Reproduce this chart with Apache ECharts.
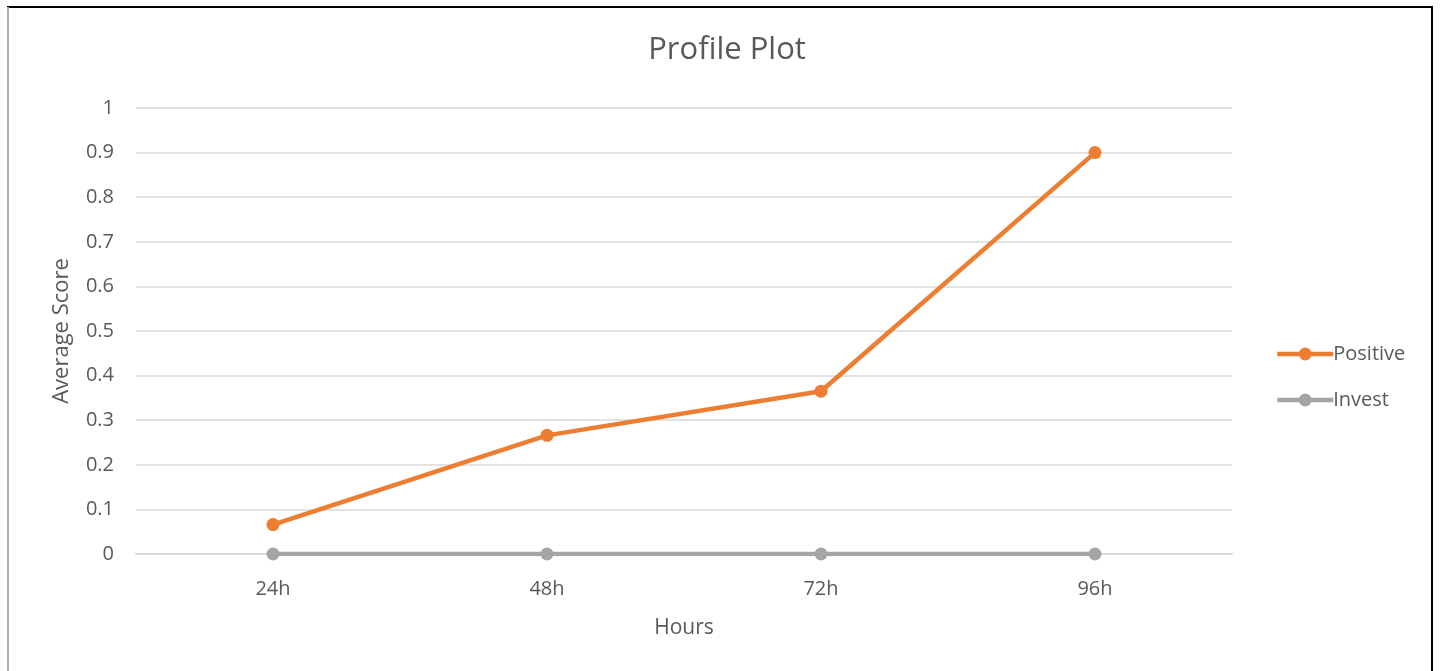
<!DOCTYPE html>
<html>
<head>
<meta charset="utf-8">
<script src="https://cdn.jsdelivr.net/npm/echarts@6/dist/echarts.min.js"></script>
<style>
html,body{margin:0;padding:0;background:#fff;}
#chart{width:1440px;height:671px;}
</style>
</head>
<body>
<div id="chart"></div>
<script>
var categories = ['24h', '48h', '72h', '96h'];
var positive = [0.066, 0.266, 0.365, 0.9];
var invest = [0, 0, 0, 0];
var yTicks = { min: 0, max: 1, interval: 0.1 };

var font = '"Open Sans", Lato, sans-serif';
var chart = echarts.init(document.getElementById('chart'));
chart.setOption({
  backgroundColor: '#fff',
  animation: false,
  graphic: [{
    type: 'rect',
    shape: { x: 8, y: 7, width: 1424, height: 700 },
    style: { fill: 'none', stroke: '#000', lineWidth: 2 },
    z: -1
  }, {
    type: 'line',
    shape: { x1: 8, y1: 7, x2: 8, y2: 671 },
    style: { stroke: '#b0b0b0', lineWidth: 2 },
    z: 0
  }],
  title: {
    text: 'Profile Plot',
    left: 722, top: 30, textAlign: 'center',
    textStyle: { fontFamily: font, fontSize: 31, fontWeight: 'normal', color: '#595959' }
  },
  legend: {
    orient: 'vertical',
    left: 1270, top: 339,
    itemWidth: 56, itemHeight: 16,
    itemGap: 26,
    lineStyle: { width: 4.5 },
    textStyle: { fontFamily: font, fontSize: 20, color: '#595959', padding: [0,0,0,-5] },
    data: ['Positive', 'Invest']
  },
  grid: { left: 136, right: 208, top: 108, bottom: 117, containLabel: false },
  xAxis: {
    type: 'category',
    data: categories,
    boundaryGap: true,
    name: 'Hours',
    nameLocation: 'middle',
    nameGap: 64,
    nameTextStyle: { fontFamily: font, fontSize: 21, color: '#595959' },
    axisLine: { show: true, lineStyle: { color: '#d9d9d9', width: 2 } },
    axisTick: { show: false },
    axisLabel: { fontFamily: font, fontSize: 20, color: '#595959', margin: 25 }
  },
  yAxis: {
    type: 'value',
    min: yTicks.min, max: yTicks.max, interval: yTicks.interval,
    name: 'Average Score',
    nameLocation: 'middle',
    nameGap: 63,
    nameTextStyle: { fontFamily: font, fontSize: 22, color: '#595959' },
    axisLine: { show: false },
    axisTick: { show: false },
    splitLine: { lineStyle: { color: '#d9d9d9', width: 1.5 } },
    axisLabel: { fontFamily: font, fontSize: 20, color: '#595959', margin: 22,
      formatter: function (v) { return String(Math.round(v * 10) / 10); } }
  },
  series: [{
    name: 'Positive', type: 'line', data: positive,
    symbol: 'circle', symbolSize: 13,
    lineStyle: { color: '#ED7D31', width: 4.5 },
    itemStyle: { color: '#ED7D31' },
    z: 3
  }, {
    name: 'Invest', type: 'line', data: invest,
    symbol: 'circle', symbolSize: 13,
    lineStyle: { color: '#A5A5A5', width: 4.5 },
    itemStyle: { color: '#A5A5A5' },
    z: 2
  }]
});
</script>
</body>
</html>
